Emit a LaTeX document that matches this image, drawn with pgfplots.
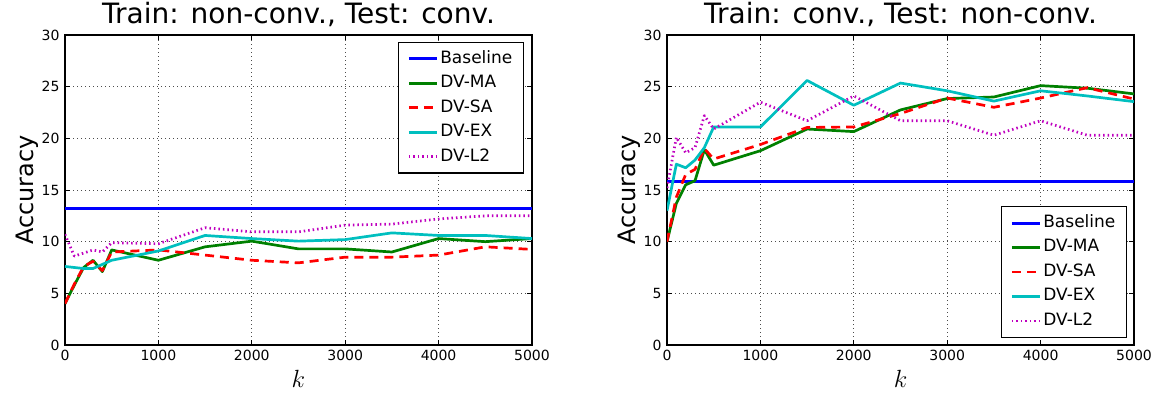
\documentclass[border=0pt]{standalone}
\usepackage{fontspec}
\setmainfont{DejaVu Sans}
\usepackage{pgfplots}
\pgfplotsset{compat=1.18}

\definecolor{mplb}{rgb}{0,0,1}
\definecolor{mplg}{rgb}{0,0.5,0}
\definecolor{mplr}{rgb}{1,0,0}
\definecolor{mplc}{rgb}{0,0.75,0.75}
\definecolor{mplm}{rgb}{0.75,0,0.75}

\pgfplotsset{
 mystyle/.style={
  scale only axis, width=467pt, height=310pt,
  xmin=0, xmax=5000, ymin=0, ymax=30,
  xtick={0,1000,...,5000}, ytick={0,5,...,30},
  tick align=inside, tick pos=both, major tick length=5pt,
  tick style={black, line width=0.8pt},
  axis line style={line width=1.2pt},
  grid=major, major grid style={black!70, line width=0.7pt, dash pattern=on 1pt off 3pt},
  scaled x ticks=false,
  /pgf/number format/assume math mode=true,
  /pgf/number format/set thousands separator={},
  ticklabel style={font=\fontsize{14}{16}\selectfont},
  xticklabel style={yshift=-2pt},
  yticklabel style={xshift=-2pt},
  title style={font=\fontsize{28}{32}\selectfont, at={(axis description cs:0.5,1.019)}, anchor=base, inner sep=0pt},
  xlabel style={font=\fontsize{24}{28}\selectfont, at={(axis description cs:0.5,-0.08)}, anchor=north, inner sep=0pt},
  ylabel style={font=\fontsize{24}{28}\selectfont, at={(axis description cs:-0.0557,0.5)}, anchor=south, inner sep=0pt},
  legend style={draw=black, line width=1.2pt, font=\fontsize{17}{20}\selectfont,
    inner xsep=9pt, inner ysep=6pt, row sep=4pt,
    nodes={inner sep=2pt, text height=12.5pt, text depth=4pt},
    /tikz/every even column/.append style={column sep=15pt}},
  legend cell align=left,
  legend image code/.code={\draw[#1] (0pt,0pt) -- (28pt,0pt);},
  every axis plot/.append style={line width=2.7pt, line join=round},
 },
 sBase/.style={mplb, line width=3pt},
 sMA/.style={mplg},
 sSA/.style={mplr, dash pattern=on 9pt off 6pt},
 sEX/.style={mplc},
 sL2/.style={mplm, dash pattern=on 1.5pt off 3pt},
}

\begin{document}
\begin{tikzpicture}
\useasboundingbox (-65pt,-53pt) rectangle (1088pt,345pt);
\begin{axis}[mystyle, at={(0pt,0pt)}, anchor=south west,
  title={Train: non-conv., Test: conv.}, xlabel={$k$}, ylabel={Accuracy},
  legend style={at={(1,1)}, anchor=north east, xshift=-8pt, yshift=-7pt}]
\addplot[sBase] coordinates {(0,13.2) (5000,13.2)};
\addlegendentry{Baseline}
\addplot[sMA] coordinates {(0,4.0) (100,5.8) (200,7.5) (300,8.2) (400,7.1) (500,9.2) (1000,8.2) (1500,9.5) (2000,10.05) (2500,9.3) (3000,9.3) (3500,9.0) (4000,10.3) (4500,10.0) (5000,10.3)};
\addlegendentry{DV-MA}
\addplot[sSA] coordinates {(0,4.0) (100,5.9) (200,7.6) (300,8.1) (400,7.2) (500,9.0) (1000,9.2) (1500,8.7) (2000,8.2) (2500,7.95) (3000,8.5) (3500,8.5) (4000,8.7) (4500,9.5) (5000,9.25)};
\addlegendentry{DV-SA}
\addplot[sEX] coordinates {(0,7.6) (100,7.5) (200,7.4) (300,7.4) (400,7.8) (500,8.2) (1000,9.1) (1500,10.6) (2000,10.3) (2500,10.05) (3000,10.2) (3500,10.85) (4000,10.6) (4500,10.6) (5000,10.3)};
\addlegendentry{DV-EX}
\addplot[sL2] coordinates {(0,10.7) (100,8.6) (200,8.9) (300,9.2) (400,9.0) (500,9.9) (1000,9.8) (1500,11.35) (2000,10.95) (2500,10.95) (3000,11.6) (3500,11.7) (4000,12.2) (4500,12.5) (5000,12.5)};
\addlegendentry{DV-L2}
\end{axis}

\begin{axis}[mystyle, at={(602pt,0pt)}, anchor=south west,
  title={Train: conv., Test: non-conv.}, xlabel={$k$}, ylabel={Accuracy},
  legend style={at={(1,0)}, anchor=south east, xshift=-7pt, yshift=7pt}]
\addplot[sBase] coordinates {(0,15.85) (5000,15.85)};
\addlegendentry{Baseline}
\addplot[sMA] coordinates {(0,10.0) (100,13.7) (200,15.5) (300,15.9) (400,18.9) (500,17.4) (1000,18.8) (1500,20.9) (2000,20.65) (2500,22.75) (3000,23.85) (3500,24.0) (4000,25.1) (4500,24.85) (5000,24.3)};
\addlegendentry{DV-MA}
\addplot[sSA] coordinates {(0,10.0) (100,14.3) (200,16.5) (300,17.0) (400,19.0) (500,18.0) (1000,19.4) (1500,21.05) (2000,21.1) (2500,22.4) (3000,23.9) (3500,23.0) (4000,23.9) (4500,24.9) (5000,23.8)};
\addlegendentry{DV-SA}
\addplot[sEX] coordinates {(0,13.0) (100,17.5) (200,17.15) (300,17.9) (400,19.1) (500,21.1) (1000,21.1) (1500,25.6) (2000,23.2) (2500,25.35) (3000,24.6) (3500,23.6) (4000,24.6) (4500,24.1) (5000,23.55)};
\addlegendentry{DV-EX}
\addplot[sL2] coordinates {(0,15.2) (100,20.1) (200,18.6) (300,19.1) (400,22.2) (500,20.9) (1000,23.5) (1500,21.7) (2000,24.1) (2500,21.7) (3000,21.7) (3500,20.3) (4000,21.7) (4500,20.3) (5000,20.3)};
\addlegendentry{DV-L2}
\end{axis}
\end{tikzpicture}
\end{document}
